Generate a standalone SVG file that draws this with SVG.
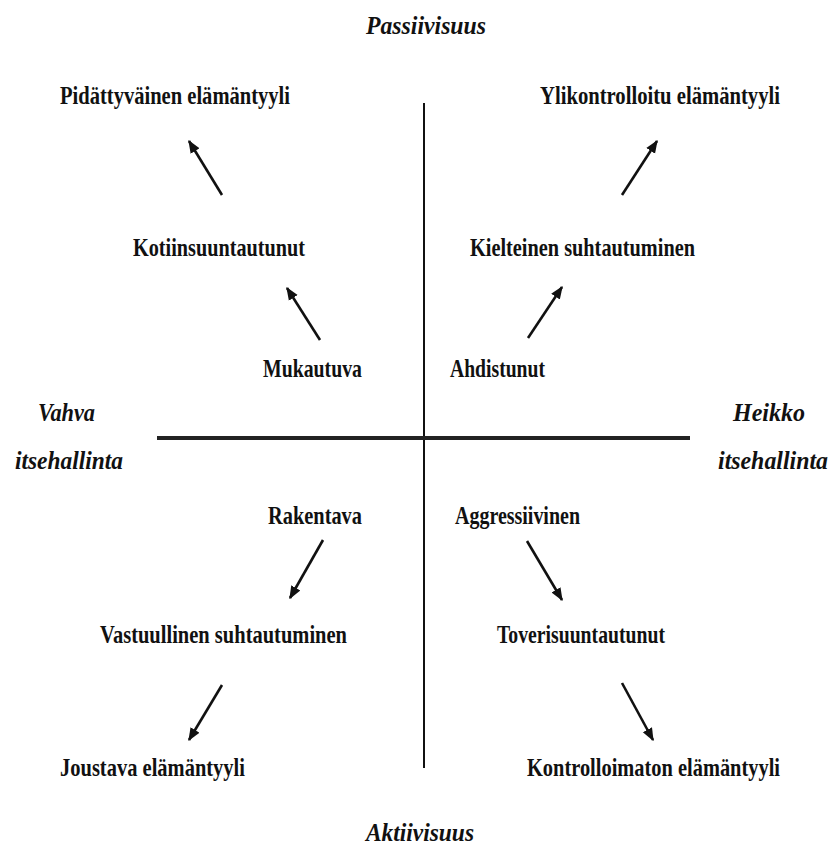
<svg xmlns="http://www.w3.org/2000/svg" width="830" height="852" viewBox="0 0 830 852">
<style>
.t{font-family:"Liberation Serif","Times New Roman",serif;font-weight:bold;font-size:25px;fill:#111}
.i{font-style:italic}
.c{stroke:#111;stroke-width:2.6;fill:none;marker-end:url(#ah)}
</style>
<defs>
<marker id="ah" viewBox="0 0 10 10" refX="9" refY="5" markerWidth="5" markerHeight="5" markerUnits="strokeWidth" orient="auto">
<path d="M0,1 L10,5 L0,9 z" fill="#111"/>
</marker>
</defs>
<rect width="830" height="852" fill="#fff"/>
<g id="axes">
<line x1="424" y1="103" x2="424" y2="768" stroke="#111" stroke-width="2"/>
<line x1="157" y1="438" x2="690" y2="438" stroke="#222" stroke-width="4"/>
</g>
<g id="axis-labels">
<text class="t i" x="366" y="34" textLength="120" lengthAdjust="spacingAndGlyphs">Passiivisuus</text>
<text class="t i" x="366" y="841" textLength="108" lengthAdjust="spacingAndGlyphs">Aktiivisuus</text>
<text class="t i" x="38" y="421" textLength="57" lengthAdjust="spacingAndGlyphs">Vahva</text>
<text class="t i" x="15" y="469" textLength="108" lengthAdjust="spacingAndGlyphs">itsehallinta</text>
<text class="t i" x="733" y="421" textLength="72" lengthAdjust="spacingAndGlyphs">Heikko</text>
<text class="t i" x="718" y="469" textLength="110" lengthAdjust="spacingAndGlyphs">itsehallinta</text>
</g>
<g id="n-pidattyvainen"><text class="t" x="60" y="104" textLength="230" lengthAdjust="spacingAndGlyphs">Pidättyväinen elämäntyyli</text></g>
<g id="n-ylikontrolloitu"><text class="t" x="540" y="104" textLength="240" lengthAdjust="spacingAndGlyphs">Ylikontrolloitu  elämäntyyli</text></g>
<g id="n-kotiinsuuntautunut"><text class="t" x="133" y="256" textLength="172" lengthAdjust="spacingAndGlyphs">Kotiinsuuntautunut</text></g>
<g id="n-kielteinen"><text class="t" x="470" y="256" textLength="225" lengthAdjust="spacingAndGlyphs">Kielteinen suhtautuminen</text></g>
<g id="n-mukautuva"><text class="t" x="263" y="377" textLength="99" lengthAdjust="spacingAndGlyphs">Mukautuva</text></g>
<g id="n-ahdistunut"><text class="t" x="450" y="377" textLength="95" lengthAdjust="spacingAndGlyphs">Ahdistunut</text></g>
<g id="n-rakentava"><text class="t" x="268" y="524" textLength="94" lengthAdjust="spacingAndGlyphs">Rakentava</text></g>
<g id="n-aggressiivinen"><text class="t" x="455" y="524" textLength="125" lengthAdjust="spacingAndGlyphs">Aggressiivinen</text></g>
<g id="n-vastuullinen"><text class="t" x="100" y="643" textLength="247" lengthAdjust="spacingAndGlyphs">Vastuullinen  suhtautuminen</text></g>
<g id="n-toverisuuntautunut"><text class="t" x="497" y="643" textLength="168" lengthAdjust="spacingAndGlyphs">Toverisuuntautunut</text></g>
<g id="n-joustava"><text class="t" x="60" y="776" textLength="185" lengthAdjust="spacingAndGlyphs">Joustava elämäntyyli</text></g>
<g id="n-kontrolloimaton"><text class="t" x="527" y="776" textLength="253" lengthAdjust="spacingAndGlyphs">Kontrolloimaton  elämäntyyli</text></g>
<g id="connectors">
<line class="c" x1="222" y1="195" x2="189" y2="141"/>
<line class="c" x1="622" y1="195" x2="657" y2="141"/>
<line class="c" x1="320" y1="340" x2="287" y2="288"/>
<line class="c" x1="528" y1="338" x2="562" y2="287"/>
<line class="c" x1="323" y1="540" x2="290" y2="598"/>
<line class="c" x1="527" y1="541" x2="562" y2="600"/>
<line class="c" x1="222" y1="685" x2="189" y2="740"/>
<line class="c" x1="622" y1="683" x2="653" y2="740"/>
</g>
</svg>
